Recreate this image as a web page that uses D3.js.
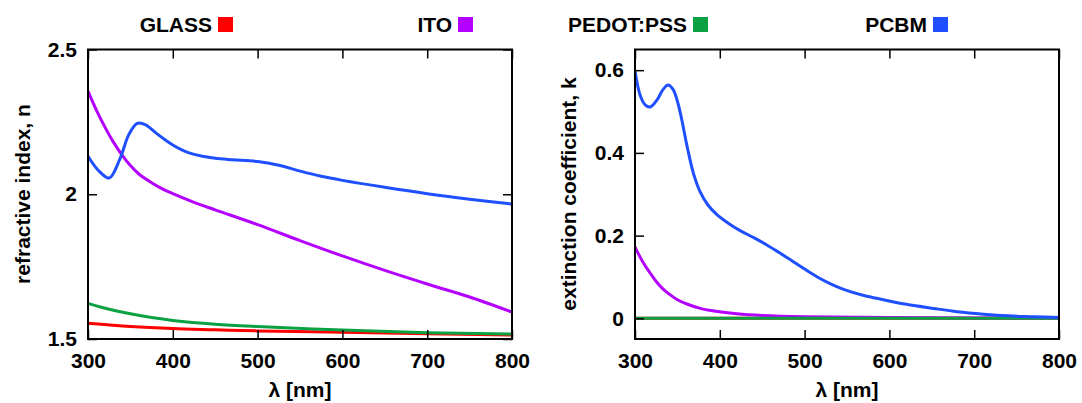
<!DOCTYPE html>
<html>
<head>
<meta charset="utf-8">
<script src="https://cdn.jsdelivr.net/npm/d3@7"></script>
<style>
  body { margin: 0; background: #fff; }
  svg text { font-family: "Liberation Sans", Arial, Helvetica, sans-serif; font-weight: bold; fill: #000; }
</style>
</head>
<body>
<div id="chart"></div>
<script>
// Materials shown in the legend
var materials = ["GLASS", "ITO", "PEDOT:PSS", "PCBM"];
var colors = ["#ff0000", "#b400ff", "#0ba143", "#1f4fff"];

// Wavelength axis
var lambdaTicks = [300, 400, 500, 600, 700, 800];

// refractive index n, [wavelength nm, n]
var glassN = [[300,1.554],[350,1.543],[400,1.536],[450,1.532],[500,1.528],[600,1.523],[700,1.518],[800,1.514]];
var itoN = [[300,2.356],[310,2.290],[320,2.232],[330,2.180],[340,2.136],[350,2.099],[360,2.070],[375,2.040],
            [390,2.015],[400,2.002],[425,1.972],[450,1.946],[500,1.895],[550,1.840],[600,1.787],[650,1.737],
            [700,1.690],[750,1.645],[800,1.593]];
var pedotN = [[300,1.623],[325,1.603],[350,1.587],[375,1.574],[400,1.564],[450,1.551],[500,1.543],[600,1.531],
              [700,1.522],[800,1.517]];
var pcbmN = [[300,2.131],[312,2.083],[325,2.056],[338,2.125],[348,2.205],[358,2.245],[368,2.240],[380,2.212],
             [390,2.190],[400,2.170],[410,2.154],[420,2.142],[435,2.131],[450,2.124],[470,2.119],[500,2.113],
             [525,2.100],[550,2.080],[575,2.062],[600,2.048],[650,2.024],[700,2.002],[750,1.983],[800,1.966]];

// extinction coefficient k, [wavelength nm, k]
var glassK = [[300,0],[800,0]];
var itoK = [[300,0.173],[306,0.148],[312,0.127],[318,0.109],[325,0.089],[332,0.073],[340,0.059],[350,0.045],
            [362,0.034],[377,0.024],[395,0.017],[420,0.011],[450,0.007],[500,0.004],[600,0.002],[700,0.001],
            [800,0.0005]];
var pedotK = [[300,0],[800,0]];
var pcbmK = [[300,0.598],[306,0.540],[312,0.516],[318,0.511],[326,0.528],[333,0.553],[339,0.564],[345,0.553],
             [350,0.525],[355,0.482],[361,0.420],[369,0.350],[377,0.305],[386,0.274],[396,0.252],[410,0.230],
             [424,0.212],[440,0.195],[455,0.178],[470,0.159],[485,0.139],[500,0.119],[515,0.100],[530,0.084],
             [546,0.070],[570,0.055],[593,0.045],[620,0.034],[652,0.024],[680,0.016],[711,0.010],[740,0.006],
             [770,0.004],[800,0.002]];

var nTicks = [1.5, 2, 2.5];
var kTicks = [0, 0.2, 0.4, 0.6];

var width = 1082, height = 403;
var fontSize = "21px";

var svg = d3.select("#chart").append("svg")
  .attr("width", width)
  .attr("height", height);

// Legend across the top
var legendPos = [212, 452, 687, 927];
materials.forEach(function(m, i) {
  svg.append("text")
    .attr("x", legendPos[i])
    .attr("y", 32)
    .attr("text-anchor", "end")
    .style("font-size", fontSize)
    .text(m);
  svg.append("rect")
    .attr("x", legendPos[i] + 6)
    .attr("y", 17)
    .attr("width", 15)
    .attr("height", 15)
    .attr("fill", colors[i]);
});

function panel(opts) {
  var x = d3.scaleLinear().domain([300, 800]).range([opts.left, opts.right]);
  var y = d3.scaleLinear().domain(opts.domain).range([339, 49.5]);

  var g = svg.append("g");
  var clipId = "clip" + opts.id;
  g.append("clipPath").attr("id", clipId)
    .append("rect")
      .attr("x", opts.left).attr("y", 49.5)
      .attr("width", opts.right - opts.left).attr("height", 339 - 49.5);

  var line = d3.line()
    .x(function(d) { return x(d[0]); })
    .y(function(d) { return y(d[1]); })
    .curve(d3.curveCatmullRom.alpha(0.5));

  opts.series.forEach(function(s, i) {
    g.append("path")
      .datum(s)
      .attr("clip-path", "url(#" + clipId + ")")
      .attr("fill", "none")
      .attr("stroke", colors[i])
      .attr("stroke-width", 3)
      .attr("d", line);
  });

  // axes with inward ticks
  g.append("g")
    .attr("transform", "translate(0,339)")
    .call(d3.axisBottom(x).tickValues(lambdaTicks).tickSize(-9).tickPadding(14).tickFormat(d3.format("d")));
  g.append("g")
    .attr("transform", "translate(0,49.5)")
    .call(d3.axisTop(x).tickValues(lambdaTicks).tickSize(-9).tickFormat(""));
  g.append("g")
    .attr("transform", "translate(" + opts.left + ",0)")
    .call(d3.axisLeft(y).tickValues(opts.ticks).tickSize(-9).tickPadding(11).tickFormat(d3.format("")));
  if (opts.mirrorY) {
    g.append("g")
      .attr("transform", "translate(" + opts.right + ",0)")
      .call(d3.axisRight(y).tickValues(opts.ticks).tickSize(-9).tickFormat(""));
  }
  g.selectAll(".domain").remove();
  g.selectAll(".tick line").attr("stroke", "#000").attr("stroke-width", 1.5);
  g.selectAll(".tick text").style("font-size", fontSize).attr("fill", "#000");

  // frame
  g.append("rect")
    .attr("x", opts.left).attr("y", 49.5)
    .attr("width", opts.right - opts.left).attr("height", 339 - 49.5)
    .attr("fill", "none").attr("stroke", "#000").attr("stroke-width", 2);

  g.append("text")
    .attr("x", (opts.left + opts.right) / 2)
    .attr("y", 397)
    .attr("text-anchor", "middle")
    .style("font-size", fontSize)
    .text("\u03bb [nm]");

  g.append("text")
    .attr("transform", "translate(" + opts.labelX + ",194) rotate(-90)")
    .attr("text-anchor", "middle")
    .style("font-size", fontSize)
    .text(opts.label);
}

panel({
  id: "n", left: 88, right: 512, domain: [1.5, 2.5], ticks: nTicks,
  series: [glassN, itoN, pedotN, pcbmN],
  mirrorY: true, labelX: 30, label: "refractive index, n"
});

panel({
  id: "k", left: 635, right: 1059, domain: [-0.05, 0.65], ticks: kTicks,
  series: [glassK, itoK, pedotK, pcbmK],
  mirrorY: false, labelX: 576, label: "extinction coefficient, k"
});
</script>
</body>
</html>
